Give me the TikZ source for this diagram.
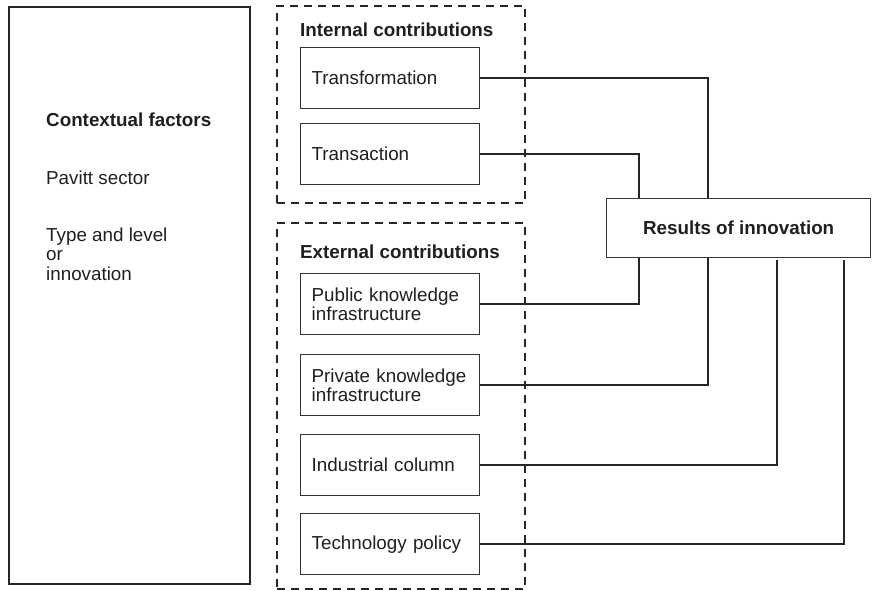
\documentclass[tikz,border=0pt]{standalone}
\usepackage{fontspec}
\setmainfont{Liberation Sans}
\usetikzlibrary{calc}

\begin{document}
\begin{tikzpicture}[x=1pt,y=-1pt,
	every node/.style={font=\fontsize{18.8}{19.5}\selectfont, text=black!88},
	factor/.style={draw=black!80, line width=1.3pt, anchor=north west, minimum height=61pt, text width=157pt, inner xsep=11pt, inner ysep=0pt, align=left},
	group/.style={draw=black!85, line width=1.8pt, dash pattern=on 8pt off 6pt, anchor=north west, inner sep=0pt},
	heading/.style={anchor=west, inner sep=0pt, font=\fontsize{18.8}{19.5}\selectfont\bfseries},
	plain/.style={anchor=west, inner sep=0pt, align=left},
	link/.style={draw=black!85, line width=2pt}]
			%%%%% START %%%%%
			\useasboundingbox (0,0) rectangle (872,590);
			
			% contextual factors column
			\node[draw=black!85, line width=1.6pt, anchor=north west, inner sep=0pt, minimum width=241pt, minimum height=577pt] (ctx) at (8,6) {};
			\node[heading] (ctxtitle) at (46,120) {Contextual factors};
			\node[plain] (pavitt) at (46,178) {Pavitt sector};
			\node[plain] (typelevel) at (46,254) {Type and level\\or\\innovation};
			
			% internal contributions
			\node[group, minimum width=248pt, minimum height=197pt] (internal) at (276,5) {};
			\node[heading] (inttitle) at (300,30) {Internal contributions};
			\node[factor] (transf) at (300,47) {Transformation};
			\node[factor] (transact) at (300,123) {Transaction};
			
			% external contributions
			\node[group, minimum width=248pt, minimum height=366pt] (external) at (276,222) {};
			\node[heading] (exttitle) at (300,252) {External contributions};
			\node[factor] (public) at (300,273) {Public knowledge\\infrastructure};
			\node[factor] (private) at (300,354) {Private knowledge\\infrastructure};
			\node[factor] (industry) at (300,434) {Industrial column};
			\node[factor] (policy) at (300,513) {Technology policy};
			
			% results
			\node[draw=black!80, line width=1.3pt, anchor=north west, inner sep=0pt, minimum width=264pt, minimum height=59pt, font=\fontsize{18.8}{19.5}\selectfont\bfseries] (results) at (606,198) {Results of innovation};
			
			\draw[link] (transf.east) -| ($(results.north west)+(102,0)$);
			\draw[link] (transact.east) -| ($(results.north west)+(33,0)$);
			\draw[link] (public.east) -| ($(results.south west)+(33,0)$);
			\draw[link] (private.east) -| ($(results.south west)+(102,0)$);
			\draw[link] (industry.east) -| ($(results.south west)+(171,2)$);
			\draw[link] (policy.east) -| ($(results.south west)+(238,2)$);
			%%%%% END %%%%%
\end{tikzpicture}
\end{document}
